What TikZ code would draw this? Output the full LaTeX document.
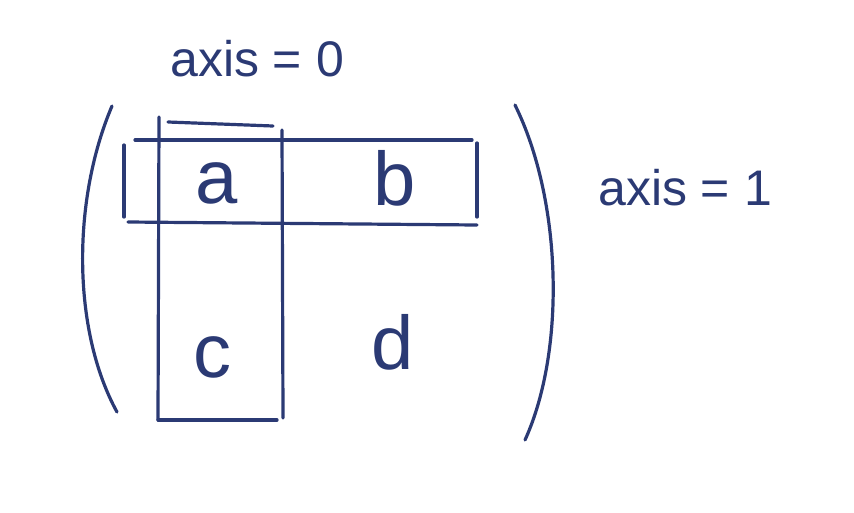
\documentclass[tikz,border=0pt]{standalone}
\usepackage{fontspec}
\setmainfont{Liberation Sans}
\definecolor{ink}{HTML}{2B3A74}
\begin{document}
\begin{tikzpicture}[x=1pt,y=-1pt,
  pen/.style={draw=ink,line width=3.2pt,line cap=round},
  big/.style={text=ink,font=\fontsize{76}{76}\selectfont,inner sep=0pt},
  lbl/.style={text=ink,font=\fontsize{50}{50}\selectfont,inner sep=0pt,anchor=base west}]
\useasboundingbox (0,0) rectangle (854,512);
% parentheses
\draw[pen] (112,106) .. controls (72,200) and (72,330) .. (117,412);
\draw[pen] (515,105) .. controls (562,200) and (566,350) .. (525,440);
% horizontal (axis=1) box
\draw[pen] (135,140) -- (472,140);
\draw[pen] (128,222) -- (477,225);
\draw[pen] (124,145) -- (124,217);
\draw[pen] (477,143) -- (477,217);
% vertical (axis=0) box
\draw[pen] (168,122) -- (273,126);
\draw[pen] (159,117) -- (158,420);
\draw[pen] (282,130) -- (283,418);
\draw[pen] (158,420) -- (277,420);
% entries
\node[big] (a) at (217,183) {a};
\node[big] (b) at (395,178) {b};
\node[big] (c) at (212,357) {c};
\node[big] (d) at (393,342) {d};
% labels
\node[lbl] (ax0) at (170,76) {axis = 0};
\node[lbl] (ax1) at (598,205) {axis = 1};
\end{tikzpicture}
\end{document}
